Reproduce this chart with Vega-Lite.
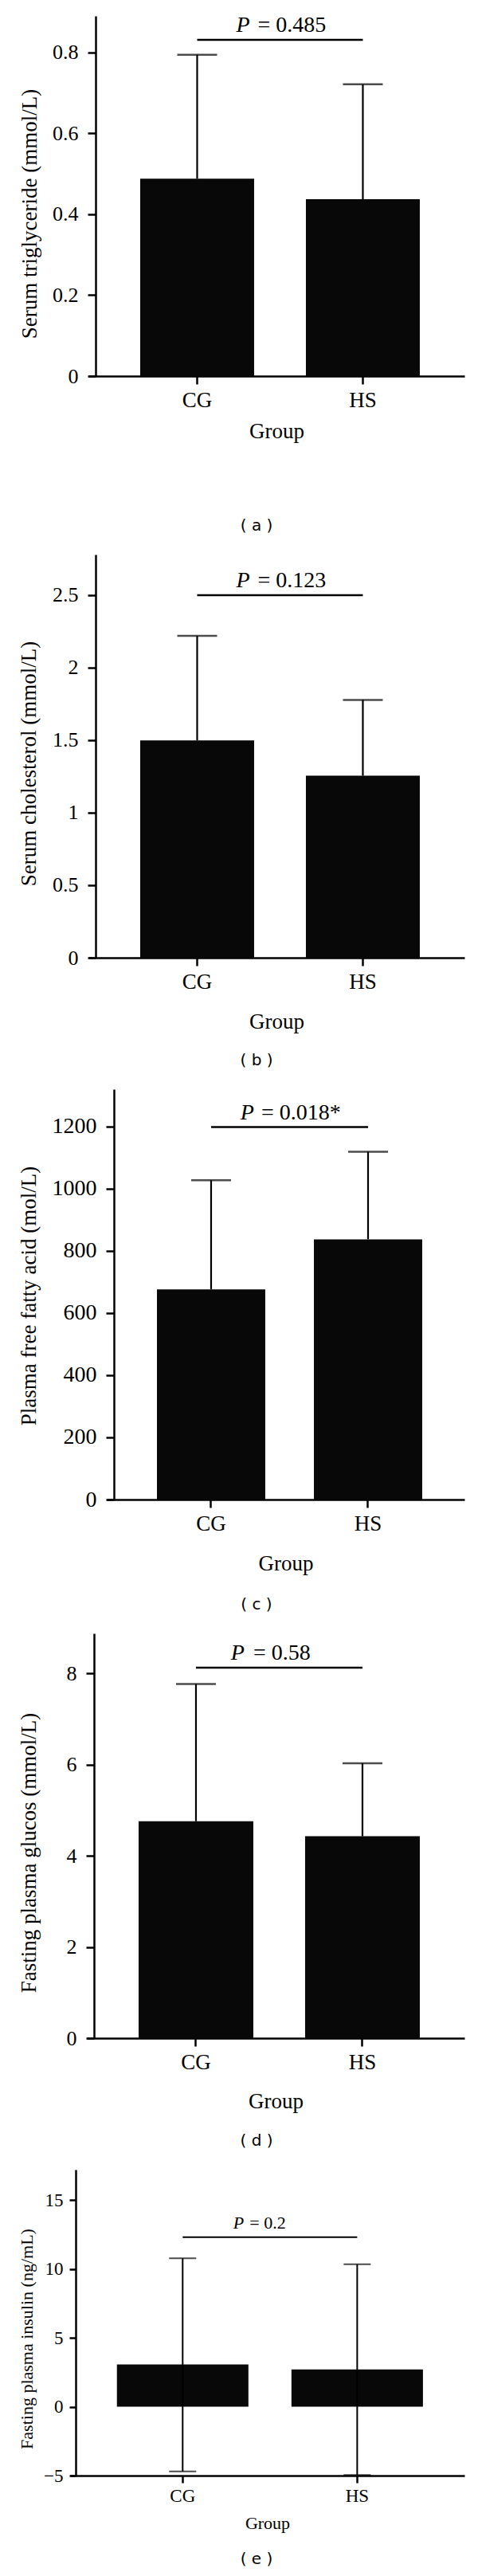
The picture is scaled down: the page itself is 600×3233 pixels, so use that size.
{
  "$schema": "https://vega.github.io/schema/vega-lite/v6.json",
  "background": "white",
  "padding": {"left": 22, "top": 17, "right": 5, "bottom": 5},
  "spacing": 26,
  "config": {
    "view": {"stroke": null},
    "axis": {"domainColor": "black", "domainWidth": 2.5, "tickColor": "black", "tickWidth": 2.5, "tickSize": 10, "grid": false,
      "labelFont": "Liberation Serif", "labelFontSize": 26, "labelColor": "black", "labelPadding": 12,
      "titleFont": "Liberation Serif", "titleFontSize": 27, "titleFontWeight": "normal", "titleColor": "black"},
    "axisX": {"labelPadding": 7, "labelFontSize": 27},
    "axisY": {"titleAngle": 270, "titleAlign": "center", "titleBaseline": "middle"},
    "title": {"font": "DejaVu Sans", "fontSize": 20, "fontWeight": "normal", "color": "black", "orient": "bottom", "anchor": "middle", "dx": -17}
  },
  "datasets": {
    "a": [{"group": "CG", "mean": 0.488, "upper": 0.794}, {"group": "HS", "mean": 0.437, "upper": 0.721}],
    "a_sig": [{"group": "CG", "group2": "HS", "y": 0.831, "p": "= 0.485"}],
    "b": [{"group": "CG", "mean": 1.498, "upper": 2.219}, {"group": "HS", "mean": 1.255, "upper": 1.778}],
    "b_sig": [{"group": "CG", "group2": "HS", "y": 2.5, "p": "= 0.123"}],
    "c": [{"group": "CG", "mean": 676, "upper": 1027}, {"group": "HS", "mean": 837, "upper": 1119}],
    "c_sig": [{"group": "CG", "group2": "HS", "y": 1198, "p": "= 0.018*"}],
    "d": [{"group": "CG", "mean": 4.76, "upper": 7.77}, {"group": "HS", "mean": 4.43, "upper": 6.03}],
    "d_sig": [{"group": "CG", "group2": "HS", "y": 8.13, "p": "= 0.58"}],
    "e": [{"group": "CG", "mean": 3.06, "upper": 10.77, "lower": -4.69}, {"group": "HS", "mean": 2.7, "upper": 10.33, "lower": -4.95}],
    "e_sig": [{"group": "CG", "group2": "HS", "y": 12.3, "p": "= 0.2"}]
  },
  "vconcat": [
    {
      "width": 488, "height": 452,
      "title": {"text": "( a )", "offset": 95.5},
      "encoding": {"x": {"field": "group", "type": "nominal", "title": "Group",
        "scale": {"range": [16, 488], "paddingInner": 0.3125, "paddingOuter": 0.291, "align": 0.537},
        "axis": {"labelAngle": 0, "titlePadding": 13.5}}},
      "layer": [
        {"data": {"name": "a"}, "mark": {"type": "bar", "color": "#080808"},
         "encoding": {"y": {"field": "mean", "type": "quantitative", "title": "Serum triglyceride (mmol/L)",
           "scale": {"domain": [0, 0.89], "nice": false},
           "axis": {"values": [0, 0.2, 0.4, 0.6, 0.8], "format": "~g", "offset": -25, "titleX": -83, "titleY": 248}}}},
        {"data": {"name": "a"}, "mark": {"type": "rule", "color": "black", "strokeWidth": 2.2},
         "encoding": {"y": {"field": "mean", "type": "quantitative", "title": "Serum triglyceride (mmol/L)"}, "y2": {"field": "upper"}}},
        {"data": {"name": "a"}, "mark": {"type": "tick", "color": "black", "thickness": 2.5, "size": 50},
         "encoding": {"y": {"field": "upper", "type": "quantitative", "title": "Serum triglyceride (mmol/L)"}}},
        {"data": {"name": "a_sig"}, "mark": {"type": "rule", "color": "black", "strokeWidth": 2.5},
         "encoding": {"x2": {"field": "group2"}, "y": {"field": "y", "type": "quantitative", "title": "Serum triglyceride (mmol/L)"}}},
        {"data": {"name": "a_sig"}, "mark": {"type": "text", "text": "P", "font": "Liberation Serif", "fontStyle": "italic", "fontSize": 28, "align": "right", "baseline": "alphabetic", "dx": 66, "dy": -10, "color": "black"},
         "encoding": {"y": {"field": "y", "type": "quantitative", "title": "Serum triglyceride (mmol/L)"}}},
        {"data": {"name": "a_sig"}, "mark": {"type": "text", "font": "Liberation Serif", "fontSize": 28, "align": "left", "baseline": "alphabetic", "dx": 76, "dy": -10, "color": "black"},
         "encoding": {"text": {"field": "p"}, "y": {"field": "y", "type": "quantitative", "title": "Serum triglyceride (mmol/L)"}}}
      ]
    },
    {
      "width": 488, "height": 506,
      "title": {"text": "( b )", "offset": 25.5},
      "encoding": {"x": {"field": "group", "type": "nominal", "title": "Group",
        "scale": {"range": [16, 488], "paddingInner": 0.3125, "paddingOuter": 0.291, "align": 0.537},
        "axis": {"labelAngle": 0, "titlePadding": 24.5}}},
      "layer": [
        {"data": {"name": "b"}, "mark": {"type": "bar", "color": "#080808"},
         "encoding": {"y": {"field": "mean", "type": "quantitative", "title": "Serum cholesterol (mmol/L)",
           "scale": {"domain": [0, 2.78], "nice": false},
           "axis": {"values": [0, 0.5, 1, 1.5, 2, 2.5], "format": "~g", "offset": -25, "titleX": -83.5, "titleY": 262}}}},
        {"data": {"name": "b"}, "mark": {"type": "rule", "color": "black", "strokeWidth": 2.2},
         "encoding": {"y": {"field": "mean", "type": "quantitative", "title": "Serum cholesterol (mmol/L)"}, "y2": {"field": "upper"}}},
        {"data": {"name": "b"}, "mark": {"type": "tick", "color": "black", "thickness": 2.5, "size": 50},
         "encoding": {"y": {"field": "upper", "type": "quantitative", "title": "Serum cholesterol (mmol/L)"}}},
        {"data": {"name": "b_sig"}, "mark": {"type": "rule", "color": "black", "strokeWidth": 2.5},
         "encoding": {"x2": {"field": "group2"}, "y": {"field": "y", "type": "quantitative", "title": "Serum cholesterol (mmol/L)"}}},
        {"data": {"name": "b_sig"}, "mark": {"type": "text", "text": "P", "font": "Liberation Serif", "fontStyle": "italic", "fontSize": 28, "align": "right", "baseline": "alphabetic", "dx": 66, "dy": -10, "color": "black"},
         "encoding": {"y": {"field": "y", "type": "quantitative", "title": "Serum cholesterol (mmol/L)"}}},
        {"data": {"name": "b_sig"}, "mark": {"type": "text", "font": "Liberation Serif", "fontSize": 28, "align": "left", "baseline": "alphabetic", "dx": 76, "dy": -10, "color": "black"},
         "encoding": {"text": {"field": "p"}, "y": {"field": "y", "type": "quantitative", "title": "Serum cholesterol (mmol/L)"}}}
      ]
    },
    {
      "width": 488, "height": 515,
      "title": {"text": "( c )", "offset": 28.5},
      "encoding": {"x": {"field": "group", "type": "nominal", "title": "Group",
        "scale": {"range": [39, 488], "paddingInner": 0.31, "paddingOuter": 0.2945, "align": 0.543},
        "axis": {"labelAngle": 0, "titlePadding": 24.5}}},
      "layer": [
        {"data": {"name": "c"}, "mark": {"type": "bar", "color": "#080808"},
         "encoding": {"y": {"field": "mean", "type": "quantitative", "title": "Plasma free fatty acid (mol/L)",
           "scale": {"domain": [0, 1320], "nice": false},
           "axis": {"values": [0, 200, 400, 600, 800, 1000, 1200], "format": "d", "labelFontSize": 28, "offset": -48, "titleX": -106.5, "titleY": 259}}}},
        {"data": {"name": "c"}, "mark": {"type": "rule", "color": "black", "strokeWidth": 2.2},
         "encoding": {"y": {"field": "mean", "type": "quantitative", "title": "Plasma free fatty acid (mol/L)"}, "y2": {"field": "upper"}}},
        {"data": {"name": "c"}, "mark": {"type": "tick", "color": "black", "thickness": 2.5, "size": 50},
         "encoding": {"y": {"field": "upper", "type": "quantitative", "title": "Plasma free fatty acid (mol/L)"}}},
        {"data": {"name": "c_sig"}, "mark": {"type": "rule", "color": "black", "strokeWidth": 2.5},
         "encoding": {"x2": {"field": "group2"}, "y": {"field": "y", "type": "quantitative", "title": "Plasma free fatty acid (mol/L)"}}},
        {"data": {"name": "c_sig"}, "mark": {"type": "text", "text": "P", "font": "Liberation Serif", "fontStyle": "italic", "fontSize": 28, "align": "right", "baseline": "alphabetic", "dx": 54, "dy": -10, "color": "black"},
         "encoding": {"y": {"field": "y", "type": "quantitative", "title": "Plasma free fatty acid (mol/L)"}}},
        {"data": {"name": "c_sig"}, "mark": {"type": "text", "font": "Liberation Serif", "fontSize": 28, "align": "left", "baseline": "alphabetic", "dx": 63, "dy": -10, "color": "black"},
         "encoding": {"text": {"field": "p"}, "y": {"field": "y", "type": "quantitative", "title": "Plasma free fatty acid (mol/L)"}}}
      ]
    },
    {
      "width": 488, "height": 508,
      "title": {"text": "( d )", "offset": 26.5},
      "encoding": {"x": {"field": "group", "type": "nominal", "title": "Group",
        "scale": {"range": [14, 488], "paddingInner": 0.311, "paddingOuter": 0.2895, "align": 0.537},
        "axis": {"labelAngle": 0, "titlePadding": 23.5}}},
      "layer": [
        {"data": {"name": "d"}, "mark": {"type": "bar", "color": "#080808"},
         "encoding": {"y": {"field": "mean", "type": "quantitative", "title": "Fasting plasma glucos (mmol/L)",
           "scale": {"domain": [0, 8.88], "nice": false},
           "axis": {"values": [0, 2, 4, 6, 8], "format": "d", "offset": -23, "titleX": -81.5, "titleY": 275}}}},
        {"data": {"name": "d"}, "mark": {"type": "rule", "color": "black", "strokeWidth": 2.2},
         "encoding": {"y": {"field": "mean", "type": "quantitative", "title": "Fasting plasma glucos (mmol/L)"}, "y2": {"field": "upper"}}},
        {"data": {"name": "d"}, "mark": {"type": "tick", "color": "black", "thickness": 2.5, "size": 50},
         "encoding": {"y": {"field": "upper", "type": "quantitative", "title": "Fasting plasma glucos (mmol/L)"}}},
        {"data": {"name": "d_sig"}, "mark": {"type": "rule", "color": "black", "strokeWidth": 2.5},
         "encoding": {"x2": {"field": "group2"}, "y": {"field": "y", "type": "quantitative", "title": "Fasting plasma glucos (mmol/L)"}}},
        {"data": {"name": "d_sig"}, "mark": {"type": "text", "text": "P", "font": "Liberation Serif", "fontStyle": "italic", "fontSize": 28, "align": "right", "baseline": "alphabetic", "dx": 61, "dy": -10, "color": "black"},
         "encoding": {"y": {"field": "y", "type": "quantitative", "title": "Fasting plasma glucos (mmol/L)"}}},
        {"data": {"name": "d_sig"}, "mark": {"type": "text", "font": "Liberation Serif", "fontSize": 28, "align": "left", "baseline": "alphabetic", "dx": 72, "dy": -10, "color": "black"},
         "encoding": {"text": {"field": "p"}, "y": {"field": "y", "type": "quantitative", "title": "Fasting plasma glucos (mmol/L)"}}}
      ]
    },
    {
      "width": 488, "height": 384,
      "title": {"text": "( e )", "offset": 25},
      "encoding": {"x": {"field": "group", "type": "nominal", "title": "Group",
        "scale": {"range": [-7, 488], "paddingInner": 0.2466, "paddingOuter": 0.253, "align": 0.53},
        "axis": {"labelAngle": 0, "tickSize": 9, "labelPadding": 5, "titlePadding": 12, "labelFontSize": 23, "titleFontSize": 22}}},
      "layer": [
        {"data": {"name": "e"}, "mark": {"type": "bar", "color": "#080808"},
         "encoding": {"y": {"field": "mean", "type": "quantitative", "title": "Fasting plasma insulin (ng/mL)",
           "scale": {"domain": [-5, 17.2], "nice": false, "zero": false},
           "axis": {"values": [-5, 0, 5, 10, 15], "format": "d", "tickSize": 8, "labelPadding": 8, "labelFontSize": 23, "titleFontSize": 22, "titleX": -62, "titleY": 212}}}},
        {"data": {"name": "e"}, "mark": {"type": "rule", "color": "black", "strokeWidth": 2},
         "encoding": {"y": {"field": "lower", "type": "quantitative", "title": "Fasting plasma insulin (ng/mL)"}, "y2": {"field": "upper"}}},
        {"data": {"name": "e"}, "mark": {"type": "tick", "color": "black", "thickness": 2, "size": 34},
         "encoding": {"y": {"field": "upper", "type": "quantitative", "title": "Fasting plasma insulin (ng/mL)"}}},
        {"data": {"name": "e"}, "mark": {"type": "tick", "color": "black", "thickness": 2, "size": 34},
         "encoding": {"y": {"field": "lower", "type": "quantitative", "title": "Fasting plasma insulin (ng/mL)"}}},
        {"data": {"name": "e_sig"}, "mark": {"type": "rule", "color": "black", "strokeWidth": 2},
         "encoding": {"x2": {"field": "group2"}, "y": {"field": "y", "type": "quantitative", "title": "Fasting plasma insulin (ng/mL)"}}},
        {"data": {"name": "e_sig"}, "mark": {"type": "text", "text": "P", "font": "Liberation Serif", "fontStyle": "italic", "fontSize": 22, "align": "right", "baseline": "alphabetic", "dx": 77, "dy": -11, "color": "black"},
         "encoding": {"y": {"field": "y", "type": "quantitative", "title": "Fasting plasma insulin (ng/mL)"}}},
        {"data": {"name": "e_sig"}, "mark": {"type": "text", "font": "Liberation Serif", "fontSize": 22, "align": "left", "baseline": "alphabetic", "dx": 84, "dy": -11, "color": "black"},
         "encoding": {"text": {"field": "p"}, "y": {"field": "y", "type": "quantitative", "title": "Fasting plasma insulin (ng/mL)"}}}
      ]
    }
  ]
}
